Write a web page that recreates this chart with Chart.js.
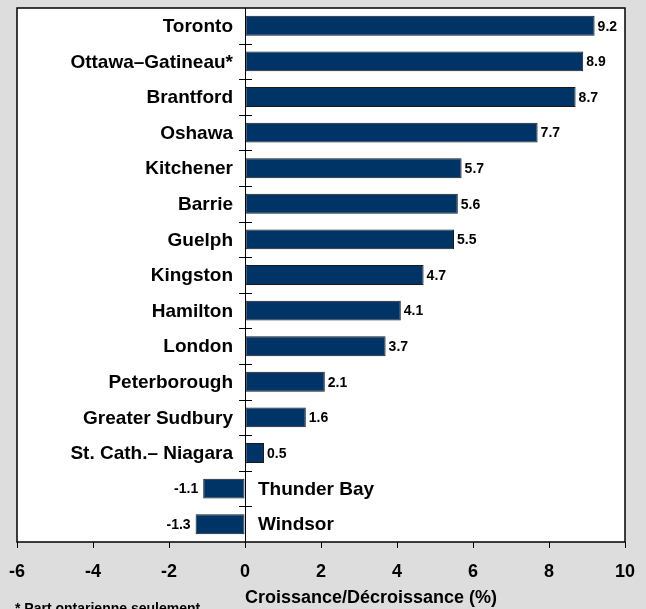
<!DOCTYPE html>
<html>
<head>
<meta charset="utf-8">
<script src="https://cdn.jsdelivr.net/npm/chart.js@4.4.0/dist/chart.umd.min.js"></script>
<style>
  html, body { margin: 0; padding: 0; background: #dddddd; }
  #wrap { width: 646px; height: 609px; }
</style>
</head>
<body>
<div id="wrap"><canvas id="c" width="646" height="609"></canvas></div>
<script>
const categories = ["Toronto", "Ottawa–Gatineau*", "Brantford", "Oshawa", "Kitchener", "Barrie", "Guelph", "Kingston", "Hamilton", "London", "Peterborough", "Greater Sudbury", "St. Cath.– Niagara", "Thunder Bay", "Windsor"];
const values = [9.2, 8.9, 8.7, 7.7, 5.7, 5.6, 5.5, 4.7, 4.1, 3.7, 2.1, 1.6, 0.5, -1.1, -1.3];
const xTicks = [-6, -4, -2, 0, 2, 4, 6, 8, 10];
const axisTitle = "Croissance/Décroissance (%)";
const footnote = "* Part ontarienne seulement";

const FONT = "'Liberation Sans', Arial, sans-serif";

const labelsPlugin = {
  id: 'labelsPlugin',
  beforeDraw(chart) {
    const ctx = chart.ctx;
    const a = chart.chartArea;
    ctx.save();
    ctx.fillStyle = '#dddddd';
    ctx.fillRect(0, 0, chart.width, chart.height);
    ctx.fillStyle = '#ffffff';
    ctx.fillRect(a.left, a.top, a.right - a.left, a.bottom - a.top);
    ctx.restore();
  },
  afterDatasetsDraw(chart) {
    const ctx = chart.ctx;
    const a = chart.chartArea;
    const xs = chart.scales.x;
    const ys = chart.scales.y;
    const x0 = xs.getPixelForValue(0);
    ctx.save();
    ctx.strokeStyle = '#000';
    ctx.lineWidth = 1;
    ctx.beginPath();
    ctx.moveTo(Math.round(x0) + 0.5, a.top);
    ctx.lineTo(Math.round(x0) + 0.5, a.bottom);
    ctx.stroke();
    for (let i = 1; i < categories.length; i++) {
      const yb = (ys.getPixelForValue(i - 1) + ys.getPixelForValue(i)) / 2;
      ctx.beginPath();
      ctx.moveTo(x0 - 6, Math.round(yb) + 0.5);
      ctx.lineTo(x0 + 7, Math.round(yb) + 0.5);
      ctx.stroke();
    }
    ctx.fillStyle = '#000';
    ctx.textBaseline = 'middle';
    for (let i = 0; i < categories.length; i++) {
      const y = ys.getPixelForValue(i);
      const v = values[i];
      const xe = xs.getPixelForValue(v);
      ctx.font = "bold 19px " + FONT;
      if (v >= 0) {
        ctx.textAlign = 'right';
        ctx.fillText(categories[i], x0 - 12, y + 1);
      } else {
        ctx.textAlign = 'left';
        ctx.fillText(categories[i], x0 + 13, y + 1);
      }
      ctx.font = "bold 14px " + FONT;
      const txt = v.toFixed(1);
      if (v >= 0) {
        ctx.textAlign = 'left';
        ctx.fillText(txt, xe + 3, y + 1);
      } else {
        ctx.textAlign = 'right';
        ctx.fillText(txt, xe - 5, y + 1);
      }
    }
    ctx.restore();
  },
  afterDraw(chart) {
    const ctx = chart.ctx;
    const a = chart.chartArea;
    ctx.save();
    ctx.strokeStyle = '#000';
    ctx.lineWidth = 1.5;
    ctx.strokeRect(a.left, a.top, a.right - a.left, a.bottom - a.top);
    ctx.fillStyle = '#000';
    ctx.textBaseline = 'middle';
    ctx.textAlign = 'center';
    ctx.font = "bold 18px " + FONT;
    ctx.fillText(axisTitle, 371, 598);
    ctx.textAlign = 'left';
    ctx.textBaseline = 'alphabetic';
    ctx.font = "bold 14px " + FONT;
    ctx.fillText(footnote, 15, 613);
    ctx.restore();
  }
};

new Chart(document.getElementById('c'), {
  type: 'bar',
  data: {
    labels: categories,
    datasets: [{
      data: values,
      backgroundColor: '#003366',
      borderColor: '#1a1a1a',
      borderWidth: 1,
      borderSkipped: false,
      barPercentage: 0.56,
      categoryPercentage: 1.0
    }]
  },
  plugins: [labelsPlugin],
  options: {
    indexAxis: 'y',
    responsive: false,
    animation: false,
    devicePixelRatio: 1,
    layout: { padding: { left: 17, right: 21, top: 8, bottom: 0 } },
    plugins: { legend: { display: false }, tooltip: { enabled: false } },
    scales: {
      x: {
        type: 'linear',
        min: -6,
        max: 10,
        afterBuildTicks(scale) { scale.ticks = xTicks.map(v => ({ value: v })); },
        afterFit(scale) {
          scale.height = 67;
          scale.paddingLeft = 0;
          scale.paddingRight = 0;
        },
        ticks: {
          color: '#000',
          font: { family: FONT, size: 18, weight: 'bold' },
          padding: 13,
          maxRotation: 0,
          autoSkip: false
        },
        grid: { drawOnChartArea: false, drawTicks: true, tickLength: 6, color: '#000', lineWidth: 1 },
        border: { display: false }
      },
      y: {
        type: 'category',
        display: false,
        offset: true
      }
    }
  }
});
</script>
</body>
</html>
